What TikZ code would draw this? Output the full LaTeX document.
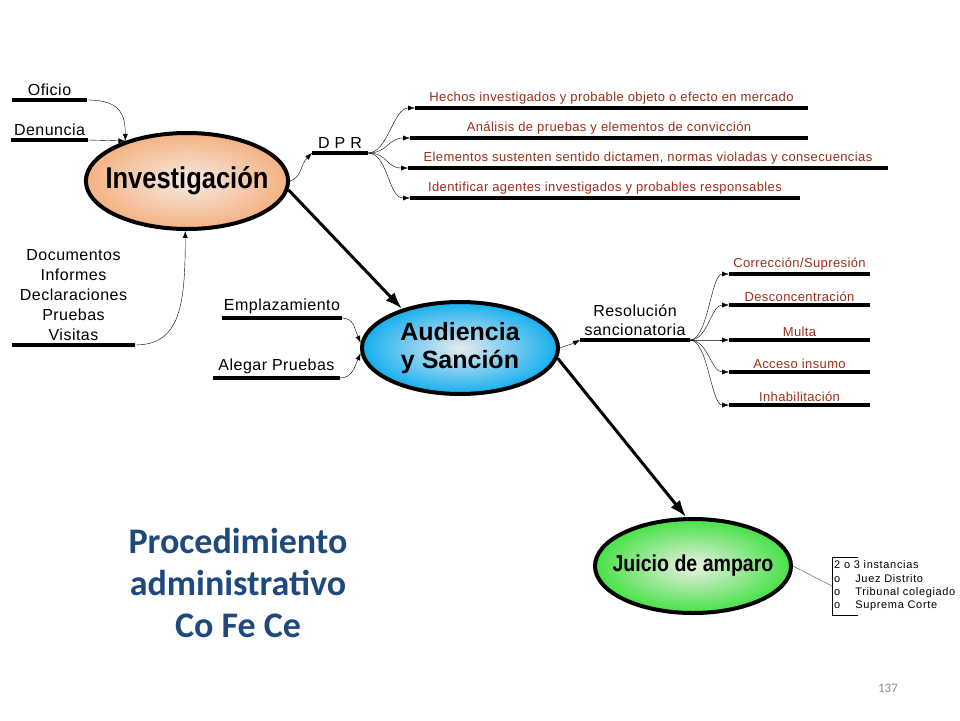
\documentclass[tikz,border=0pt]{standalone}
\usepackage{fontspec}
\setmainfont{Liberation Sans}
\newfontfamily\labfont[LetterSpace=3]{Liberation Sans}
\newfontfamily\boxfont[LetterSpace=6]{Liberation Sans}
\newfontfamily\narrowfont[FakeStretch=0.85]{Liberation Sans}
\newfontfamily\titlefont{Carlito}
\usetikzlibrary{calc,shapes.geometric,arrows.meta}

\definecolor{itemred}{RGB}{155,45,25}
\definecolor{titleblue}{RGB}{31,73,125}
\definecolor{invout}{RGB}{244,178,130}
\definecolor{invin}{RGB}{246,234,226}
\definecolor{audout}{RGB}{20,175,240}
\definecolor{audin}{RGB}{232,234,238}
\definecolor{juiout}{RGB}{70,225,70}
\definecolor{juiin}{RGB}{236,240,228}
\definecolor{pagegray}{RGB}{140,140,140}

\begin{document}
\begin{tikzpicture}[x=1pt,y=-1pt,
	proc/.style={ellipse, draw=black, line width=4pt, inner sep=0, align=center},
	bar/.style={line width=3.5pt},
	lab/.style={above, inner sep=2.5pt, font=\labfont\fontsize{16}{20}\selectfont},
	item/.style={above, inner sep=2pt, text=itemred, font=\labfont\fontsize{13}{15}\selectfont},
	feed/.style={thin, -{Latex[length=7pt,width=5pt]}},
	flow/.style={line width=3pt, -{Latex[length=17pt,width=12pt]}}]

	\useasboundingbox (0,0) rectangle (960,720);

	%main steps
	\node[proc, shade, inner color=invin, outer color=invout, minimum width=198pt, minimum height=96pt, inner xsep=-10pt, font=\narrowfont\fontsize{30}{34}\selectfont\bfseries] (inv) at (187,181) {Investigación};
	\node[proc, shade, inner color=audin, outer color=audout, minimum width=196pt, minimum height=92pt, font=\fontsize{25}{28}\selectfont\bfseries] (aud) at (460,348) {Audiencia\\ y Sanción};
	\node[proc, shade, inner color=juiin, outer color=juiout, minimum width=196pt, minimum height=94pt, inner xsep=-12pt, font=\narrowfont\fontsize{23}{26}\selectfont\bfseries] (jui) at (693,566) {Juicio de amparo};

	\draw[flow] (inv.-5) -- (aud.146);
	\draw[flow] (aud.-6) -- (jui.98);

	%inputs of the investigation
	\draw[bar] (12,100) coordinate (ofiA) -- (87,100) coordinate (ofiB) node[lab,midway] {Oficio};
	\draw[bar] (11,140) coordinate (denA) -- (88,140) coordinate (denB) node[lab,midway] {Denuncia};
	\draw[bar] (12,345) coordinate (docA) -- (135,345) coordinate (docB) node[lab,midway,align=center] {Documentos\\Informes\\Declaraciones\\Pruebas\\Visitas};
	\draw[feed] (ofiB) .. controls +(32,0) and +(0,-28) .. (inv.147);
	\draw[feed] (denB) -- (inv.147);
	\draw[feed] (docB) .. controls +(45,0) and +(0,75) .. (inv.268);

	%dictamen
	\draw[bar] (312,153) coordinate (dprA) -- (368,153) coordinate (dprB) node[lab,midway] {D P R};
	\draw[feed] (inv.east) .. controls +(12,-4) and +(-12,12) .. (dprA);
	\foreach \y/\xa/\xb/\txt [count=\i] in {108/415/808/{Hechos investigados y probable objeto o efecto en mercado},
		138/410/808/{Análisis de pruebas y elementos de convicción},
		168/408/888/{Elementos sustenten sentido dictamen, normas violadas y consecuencias},
		198/410/800/{Identificar agentes investigados y probables responsables}} {
		\draw[bar] (\xa,\y) coordinate (dprit\i) -- (\xb,\y) node[item,midway] {\txt};
		\draw[feed] (dprB) .. controls +(20,0) and +(-22,0) .. (dprit\i);
	}

	%hearing
	\draw[bar] (222,318) coordinate (empA) -- (342,318) coordinate (empB) node[lab,midway] {Emplazamiento};
	\draw[bar] (213,378) coordinate (aleA) -- (340,378) coordinate (aleB) node[lab,midway] {Alegar Pruebas};
	\draw[feed] (empB) .. controls +(12,0) and +(-6,-14) .. (aud.177);
	\draw[feed] (aleB) .. controls +(12,0) and +(-6,14) .. (aud.183);

	%sanctions
	\draw[bar] (580,340) coordinate (resA) -- (690,340) coordinate (resB) node[lab,midway,align=center,font=\labfont\fontsize{16}{19}\selectfont] {Resolución\\sancionatoria};
	\draw[feed] (aud.east) .. controls +(8,-3) and +(-8,4) .. (resA);
	\foreach \y/\txt [count=\i] in {274/{Corrección/Supresión}, 305/Desconcentración, 340/Multa, 372/Acceso insumo, 405/Inhabilitación} {
		\draw[bar] (729,\y) coordinate (resit\i) -- (870,\y) node[item,midway] {\txt};
		\draw[feed] (resB) .. controls +(18,0) and +(-18,0) .. (resit\i);
	}

	%amparo
	\node[anchor=west, inner sep=2pt, font=\boxfont\fontsize{11}{13.3}\selectfont] (inst) at (832,586) {\begin{tabular}{@{}l@{\hspace{15pt}}l@{}}\multicolumn{2}{@{}l@{}}{2 o 3 instancias}\\ o & Juez Distrito\\ o & Tribunal colegiado\\ o & Suprema Corte\end{tabular}};
	\draw ([xshift=26pt]inst.north west) -- (inst.north west) -- (inst.south west) -- ([xshift=26pt]inst.south west);
	\draw[black!70] (jui.east) -- (inst.west);

	%title
	\node[font=\titlefont\fontsize{36}{42}\selectfont\bfseries, text=titleblue, align=center] (title) at (238,583) {Procedimiento\\administrativo\\Co Fe Ce};
	\node[font=\titlefont\fontsize{13}{15}\selectfont, text=pagegray] (pnum) at (888,688) {137};
\end{tikzpicture}
\end{document}
